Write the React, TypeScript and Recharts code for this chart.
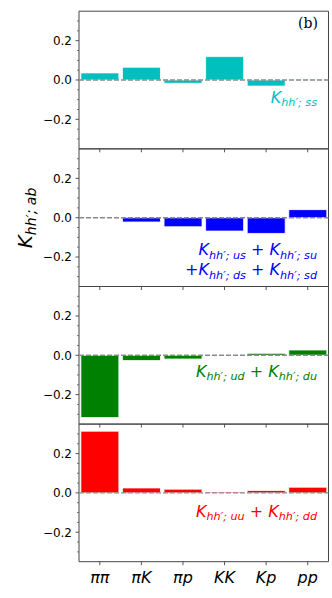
import React from 'react';
import { BarChart, Bar, XAxis, YAxis, ReferenceLine, ReferenceArea } from 'recharts';

const categories = ['ππ', 'πK', 'πp', 'KK', 'Kp', 'pp'];
const ssValues = [0.036, 0.065, -0.017, 0.119, -0.031, 0.003];
const strangeMixValues = [0.001, -0.022, -0.046, -0.068, -0.080, 0.041];
const udValues = [-0.317, -0.027, -0.019, -0.001, 0.010, 0.027];
const uuddValues = [0.314, 0.025, 0.019, 0.005, 0.012, 0.029];

const yMajorTicks = [-0.2, 0, 0.2];
const yMajorLabels = ['−0.2', '0.0', '0.2'];
const yMinorTicks = [-0.3, -0.25, -0.15, -0.1, -0.05, 0.05, 0.1, 0.15, 0.25, 0.3];
const yDomain = [-0.35, 0.35];

const PLOT_LEFT = 79;
const PLOT_RIGHT = 328.5;
const PANEL_H = 137.6;
const PANEL_TOPS = [11.2, 148.9, 286.5, 424.1];
const X_AXIS_H = 36;
const FRAME = '#444';
const FONT = 'DejaVu Sans';

const allYTicks = [...yMajorTicks, ...yMinorTicks].sort((a, b) => a - b);

const YTick = (props: any) => {
  const { y, payload } = props;
  const v = payload.value;
  const mi = yMajorTicks.findIndex((t) => Math.abs(t - v) < 1e-9);
  if (mi >= 0) {
    return (
      <g>
        <line x1={PLOT_LEFT - 3.5} x2={PLOT_LEFT} y1={y} y2={y} stroke={FRAME} strokeWidth={0.9} />
        <text x={PLOT_LEFT - 7} y={y} dy="0.36em" textAnchor="end" fontFamily={FONT} fontSize={12} fill="#000">
          {yMajorLabels[mi]}
        </text>
      </g>
    );
  }
  return <line x1={PLOT_LEFT - 2} x2={PLOT_LEFT} y1={y} y2={y} stroke={FRAME} strokeWidth={0.7} />;
};

const EmptyTick = () => <g />;

const XLabelTick = (props: any) => {
  const { x, payload } = props;
  return (
    <text x={x} y={583} textAnchor="middle" fontFamily={FONT} fontStyle="italic" fontSize={16} fill="#000">
      {payload.value}
    </text>
  );
};

const kTerm = (sub: string, key: string, size = 16) => [
  <tspan key={key + 'K'} fontStyle="italic" fontSize={size}>K</tspan>,
  <tspan key={key + 's'} fontStyle="italic" fontSize={size * 0.7} dy={3.5}>{`hh′; ${sub}`}</tspan>,
];

const plus = (key: string, lead = ' ', trail = ' ') => (
  <tspan key={key} fontSize={16} dy={-3.5}>{`${lead}+${trail}`}</tspan>
);

type Panel = {
  values: number[];
  color: string;
  annotation: (color: string) => React.ReactNode;
  extra?: () => React.ReactNode;
};

const panels: Panel[] = [
  {
    values: ssValues,
    color: '#00BFBF',
    annotation: (c) => (
      <text x={317} y={103} textAnchor="end" fontFamily={FONT} fill={c}>
        {kTerm('ss', 'a')}
      </text>
    ),
    extra: () => (
      <text x={318} y={28} textAnchor="end" fontFamily="DejaVu Serif" fontSize={14} fill="#000">
        (b)
      </text>
    ),
  },
  {
    values: strangeMixValues,
    color: '#0000FF',
    annotation: (c) => (
      <g>
        <text x={317} y={255} textAnchor="end" fontFamily={FONT} fill={c}>
          {[...kTerm('us', 'a'), plus('p1'), ...kTerm('su', 'b')]}
        </text>
        <text x={317} y={275} textAnchor="end" fontFamily={FONT} fill={c}>
          {[<tspan key="p0" fontSize={16}>+</tspan>, ...kTerm('ds', 'c'), plus('p2'), ...kTerm('sd', 'd')]}
        </text>
      </g>
    ),
    extra: () => (
      <text
        transform="translate(32, 218) rotate(-90)"
        x={0}
        y={0}
        textAnchor="middle"
        fontFamily={FONT}
        fill="#000"
      >
        <tspan fontStyle="italic" fontSize={20}>K</tspan>
        <tspan fontStyle="italic" fontSize={14} dy={4}>hh′; ab</tspan>
      </text>
    ),
  },
  {
    values: udValues,
    color: '#008000',
    annotation: (c) => (
      <text x={317} y={377} textAnchor="end" fontFamily={FONT} fill={c}>
        {[...kTerm('ud', 'a'), plus('p1'), ...kTerm('du', 'b')]}
      </text>
    ),
  },
  {
    values: uuddValues,
    color: '#FF0000',
    annotation: (c) => (
      <text x={317} y={517} textAnchor="end" fontFamily={FONT} fill={c}>
        {[...kTerm('uu', 'a'), plus('p1'), ...kTerm('dd', 'b')]}
      </text>
    ),
  },
];

const PanelChart = ({ panel, index }: { panel: Panel; index: number }) => {
  const top = PANEL_TOPS[index];
  const data = categories.map((c, i) => ({ cat: c, v: panel.values[i] }));
  const isLast = index === panels.length - 1;
  const height = top + PANEL_H + X_AXIS_H;
  return (
    <div style={{ position: 'absolute', left: 0, top: 0, width: 332, height, pointerEvents: 'none' }}>
      <BarChart
        width={332}
        height={height}
        data={data}
        margin={{ top, right: 332 - PLOT_RIGHT, left: 0, bottom: 0 }}
        barCategoryGap="4.5%"
      >
        <XAxis
          dataKey="cat"
          type="category"
          height={X_AXIS_H}
          interval={0}
          axisLine={false}
          tickSize={3.5}
          tickLine={{ stroke: FRAME, strokeWidth: 0.9 }}
          tick={isLast ? XLabelTick : EmptyTick}
        />
        <YAxis
          type="number"
          domain={yDomain}
          ticks={allYTicks}
          interval={0}
          width={PLOT_LEFT}
          axisLine={false}
          tickLine={false}
          tick={YTick}
          allowDataOverflow
          label={() => (
            <g>
              {panel.annotation(panel.color)}
              {panel.extra ? panel.extra() : null}
            </g>
          )}
        />
        <Bar dataKey="v" fill={panel.color} stroke="#ffffff" strokeWidth={0.8} isAnimationActive={false} />
        <ReferenceLine y={0} stroke="#8a8a8a" strokeWidth={1.4} strokeDasharray="5 2" />
        <ReferenceArea y1={yDomain[0]} y2={yDomain[1]} fill="none" fillOpacity={0} stroke={FRAME} strokeWidth={1} />
      </BarChart>
    </div>
  );
};

export default function App() {
  return (
    <div style={{ position: 'fixed', left: 0, top: 0, width: 332, height: 598, background: '#fff' }}>
      {panels.map((p, i) => (
        <PanelChart key={i} panel={p} index={i} />
      ))}
    </div>
  );
}
